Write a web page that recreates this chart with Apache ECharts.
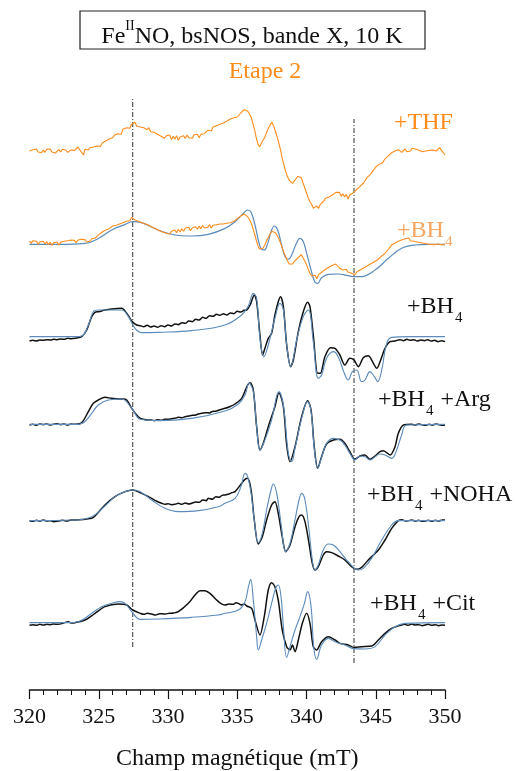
<!DOCTYPE html>
<html>
<head>
<meta charset="utf-8">
<script src="https://cdn.jsdelivr.net/npm/echarts@6/dist/echarts.min.js"></script>
<style>
  html, body { margin: 0; padding: 0; background: #fff; }
  #chart { width: 515px; height: 771px; }
</style>
</head>
<body>
<div id="chart"></div>
<script>
// Magnetic field axis (mT)
const fieldMin = 320;
const fieldMax = 350;
const fieldStep = 5;

// Trace labels
const labels = ['+THF', '+BH4', '+BH4', '+BH4 +Arg', '+BH4 +NOHA', '+BH4 +Cit'];

// Vertical guide fields (mT)
const guideFields = [327.45, 343.43];

// Vertical stacking offsets (arbitrary intensity units)
const offsets = { thf: 1617, bh4Step2: 1340, bh4: 1055, arg: 797, noha: 508, cit: 200 };

// Etape 2, +THF: [field mT, signal]
const thfExp = [[320.0,0],[320.12,-6],[320.25,4],[320.37,-2],[320.5,6],[320.62,-3],[320.75,2],[320.87,-5],[321.0,3],[321.12,-4],[321.25,5],[321.37,0],[321.5,6],[321.62,-3],[321.75,3],[321.87,-6],[322.0,-2],[322.12,4],[322.25,-3],[322.37,5],[322.5,-1],[322.62,3],[322.75,-4],[322.87,2],[323.0,3],[323.12,8],[323.25,2],[323.37,6],[323.5,12],[323.62,4],[323.75,-2],[323.9,-12],[324.0,5],[324.12,8],[324.25,3],[324.37,10],[324.5,6],[324.62,12],[324.75,9],[324.87,15],[325.0,18],[325.12,14],[325.25,24],[325.37,20],[325.5,30],[325.62,27],[325.75,36],[325.87,33],[326.0,40],[326.12,47],[326.25,42],[326.37,52],[326.5,55],[326.62,50],[326.75,66],[326.87,60],[327.0,70],[327.12,74],[327.25,68],[327.37,80],[327.5,76],[327.62,86],[327.75,74],[327.87,80],[328.0,72],[328.12,78],[328.25,70],[328.37,74],[328.5,64],[328.62,70],[328.75,58],[328.87,64],[329.0,56],[329.12,62],[329.25,50],[329.37,56],[329.5,44],[329.62,50],[329.75,38],[329.87,46],[330.0,40],[330.12,48],[330.25,34],[330.37,44],[330.5,36],[330.62,46],[330.75,32],[330.87,42],[331.0,36],[331.12,46],[331.25,38],[331.37,48],[331.5,40],[331.62,46],[331.75,38],[331.87,48],[332.0,42],[332.12,50],[332.25,40],[332.37,50],[332.5,44],[332.62,52],[332.75,46],[332.87,62],[333.0,66],[333.12,60],[333.25,72],[333.37,66],[333.5,76],[333.62,70],[333.75,80],[333.87,76],[334.0,84],[334.12,80],[334.25,90],[334.37,86],[334.5,96],[334.62,92],[334.75,100],[334.87,96],[335.0,102],[335.12,108],[335.25,114],[335.37,120],[335.5,124],[335.6,126],[335.75,120],[335.87,112],[336.0,102],[336.12,84],[336.25,64],[336.37,40],[336.5,20],[336.62,12],[336.75,24],[336.87,30],[337.0,42],[337.12,56],[337.25,68],[337.37,78],[337.5,86],[337.62,76],[337.75,60],[337.87,44],[338.0,24],[338.12,4],[338.25,-22],[338.37,-42],[338.5,-62],[338.62,-76],[338.75,-88],[338.87,-94],[339.0,-97],[339.12,-90],[339.25,-84],[339.37,-76],[339.5,-72],[339.62,-80],[339.75,-96],[339.87,-110],[340.0,-126],[340.12,-140],[340.25,-152],[340.37,-160],[340.5,-172],[340.62,-178],[340.75,-165],[340.87,-172],[341.0,-160],[341.12,-166],[341.25,-150],[341.37,-142],[341.5,-148],[341.62,-138],[341.75,-142],[341.87,-132],[342.0,-136],[342.12,-124],[342.25,-130],[342.37,-124],[342.5,-136],[342.62,-128],[342.75,-138],[342.87,-130],[343.0,-144],[343.12,-132],[343.25,-138],[343.37,-126],[343.5,-128],[343.62,-116],[343.75,-118],[343.87,-106],[344.0,-104],[344.12,-96],[344.25,-92],[344.37,-80],[344.5,-84],[344.62,-70],[344.75,-64],[344.87,-56],[345.0,-48],[345.12,-52],[345.25,-40],[345.37,-34],[345.5,-36],[345.62,-26],[345.75,-22],[345.87,-16],[346.0,-12],[346.12,-6],[346.25,-8],[346.37,0],[346.5,-4],[346.62,4],[346.75,0],[346.87,-4],[347.0,0],[347.12,6],[347.25,-2],[347.37,4],[347.5,0],[347.62,8],[347.75,2],[347.87,6],[348.0,8],[348.12,2],[348.25,4],[348.37,-2],[348.5,4],[348.62,0],[348.75,6],[348.87,2],[349.0,8],[349.12,3],[349.25,6],[349.37,0],[349.5,4],[349.62,10],[349.75,2],[349.87,4],[350.0,-12]];

// Etape 2, +BH4: measured and simulated
const bh4Step2Exp = [[320.0,7],[320.12,0],[320.25,8],[320.37,2],[320.5,6],[320.62,-3],[320.75,4],[320.87,0],[321.0,6],[321.12,-2],[321.25,5],[321.37,-4],[321.5,3],[321.62,-6],[321.75,2],[321.87,-2],[322.0,4],[322.12,-5],[322.25,3],[322.37,-2],[322.5,6],[322.62,0],[322.75,8],[322.87,3],[323.0,10],[323.12,4],[323.25,9],[323.37,2],[323.5,10],[323.62,5],[323.75,12],[323.87,6],[324.0,11],[324.12,4],[324.25,10],[324.37,6],[324.5,14],[324.62,9],[324.75,16],[324.87,22],[325.0,26],[325.12,30],[325.25,34],[325.37,38],[325.5,40],[325.62,46],[325.75,44],[325.87,50],[326.0,52],[326.12,56],[326.25,54],[326.37,60],[326.5,58],[326.62,64],[326.75,62],[326.87,68],[327.0,66],[327.12,72],[327.25,68],[327.37,78],[327.5,74],[327.62,70],[327.75,74],[327.87,66],[328.0,70],[328.12,62],[328.25,66],[328.37,58],[328.5,62],[328.62,54],[328.75,56],[328.87,48],[329.0,52],[329.12,44],[329.25,46],[329.37,38],[329.5,42],[329.62,34],[329.75,38],[329.87,30],[330.0,36],[330.12,28],[330.25,36],[330.37,30],[330.5,40],[330.62,32],[330.75,42],[330.87,34],[331.0,44],[331.12,36],[331.25,46],[331.37,40],[331.5,48],[331.62,38],[331.75,46],[331.87,40],[332.0,50],[332.12,42],[332.25,52],[332.37,44],[332.5,54],[332.62,46],[332.75,52],[332.87,48],[333.0,56],[333.12,46],[333.25,54],[333.37,48],[333.5,56],[333.62,50],[333.75,58],[333.87,52],[334.0,58],[334.12,54],[334.25,60],[334.37,56],[334.5,62],[334.62,60],[334.75,66],[334.87,70],[335.0,74],[335.12,78],[335.25,82],[335.37,86],[335.5,88],[335.62,84],[335.75,80],[335.87,72],[336.0,62],[336.12,46],[336.25,28],[336.37,10],[336.5,-8],[336.62,-18],[336.75,-20],[336.87,-14],[337.0,-4],[337.12,8],[337.25,18],[337.37,28],[337.5,36],[337.62,36],[337.75,32],[337.87,24],[338.0,14],[338.12,2],[338.25,-14],[338.37,-28],[338.5,-40],[338.62,-52],[338.75,-62],[338.87,-68],[339.0,-62],[339.12,-54],[339.25,-48],[339.37,-44],[339.5,-40],[339.62,-34],[339.75,-40],[339.87,-52],[340.0,-64],[340.12,-78],[340.25,-90],[340.37,-98],[340.5,-104],[340.62,-96],[340.75,-106],[340.87,-94],[341.0,-98],[341.12,-86],[341.25,-84],[341.37,-78],[341.5,-80],[341.62,-72],[341.75,-74],[341.87,-66],[342.0,-70],[342.12,-62],[342.25,-66],[342.37,-74],[342.5,-70],[342.62,-80],[342.75,-84],[342.87,-78],[343.0,-86],[343.12,-82],[343.25,-90],[343.37,-86],[343.5,-94],[343.62,-86],[343.75,-88],[343.87,-80],[344.0,-82],[344.12,-74],[344.25,-76],[344.37,-68],[344.5,-72],[344.62,-62],[344.75,-66],[344.87,-56],[345.0,-58],[345.12,-50],[345.25,-48],[345.37,-40],[345.5,-42],[345.62,-32],[345.75,-28],[345.87,-20],[346.0,-14],[346.12,-6],[346.25,-8],[346.37,0],[346.5,2],[346.62,6],[346.75,4],[346.87,10],[347.0,8],[347.12,14],[347.25,10],[347.37,16],[347.5,8],[347.62,12],[347.75,6],[347.87,10],[348.0,4],[348.12,8],[348.25,2],[348.37,6],[348.5,0],[348.62,6],[348.75,-2],[348.87,4],[349.0,-3],[349.12,3],[349.25,-4],[349.37,2],[349.5,-2],[349.62,4],[349.75,-4],[349.87,0],[350.0,-5]];
const bh4Step2Fit = [[320.0,-3],[322.08,-3],[324.01,0],[325.0,15],[325.93,40],[326.9,57],[327.45,65],[328.0,63],[329.3,40],[330.5,25],[331.71,22],[332.91,27],[334.12,45],[334.84,65],[335.44,90],[335.75,100],[336.0,93],[336.28,55],[336.52,10],[336.71,-15],[336.95,-20],[337.2,0],[337.44,35],[337.68,52],[337.92,40],[338.2,-5],[338.45,-40],[338.69,-48],[338.93,-35],[339.22,-5],[339.53,15],[339.77,5],[340.01,-30],[340.33,-80],[340.61,-117],[340.81,-120],[341.09,-103],[341.58,-93],[342.29,-92],[343.01,-97],[343.43,-100],[343.98,-100],[344.95,-80],[345.91,-45],[346.87,-15],[347.84,-5],[348.8,-3],[350.0,-3]];

// +BH4
const bh4Exp = [[320.0,-8],[320.25,-6],[320.5,-8],[320.75,-5],[321.0,-6],[321.25,-4],[321.5,-5],[321.75,-3],[322.0,-4],[322.25,-2],[322.5,-3],[322.75,0],[323.0,-1],[323.29,0],[323.77,5],[324.13,25],[324.49,65],[324.73,78],[325.0,80],[325.45,85],[325.93,88],[326.65,90],[327.02,75],[327.38,52],[327.74,40],[328.0,38],[328.25,35],[328.5,39],[328.75,34],[329.0,37],[329.25,33],[329.5,38],[329.75,35],[330.0,40],[330.25,37],[330.5,43],[330.75,41],[331.0,47],[331.25,45],[331.5,52],[331.75,50],[332.0,57],[332.25,55],[332.5,63],[332.75,60],[333.0,68],[333.25,66],[333.5,72],[333.75,69],[334.0,74],[334.25,70],[334.5,76],[334.75,74],[335.0,81],[335.25,79],[335.5,84],[335.68,85],[335.93,100],[336.23,130],[336.40,110],[336.64,10],[336.83,-50],[337.0,-30],[337.24,0],[337.48,15],[337.72,70],[337.96,110],[338.13,125],[338.33,95],[338.57,-20],[338.86,-85],[339.05,-65],[339.41,20],[339.77,80],[340.08,108],[340.25,95],[340.49,10],[340.81,-105],[341.0,-105],[341.33,-55],[341.74,-28],[342.06,-30],[342.41,-50],[342.77,-80],[343.13,-60],[343.43,-65],[343.74,-85],[344.1,-58],[344.46,-52],[344.83,-75],[345.07,-90],[345.31,-70],[345.67,-30],[346.03,-10],[346.39,-8],[346.75,-4],[347.0,-7],[347.25,-3],[347.5,-6],[347.75,-4],[348.0,-8],[348.25,-5],[348.5,-7],[348.75,-4],[349.0,-8],[349.25,-6],[349.5,-10],[349.75,-7],[350.0,-10]];
const bh4Fit = [[320.0,5],[323.29,5],[323.77,7],[324.25,40],[324.61,80],[324.97,85],[326.65,85],[327.14,65],[327.62,30],[328.1,17],[329.3,18],[331.71,23],[334.12,40],[335.32,70],[335.81,98],[336.16,135],[336.40,120],[336.64,0],[336.93,-55],[337.24,-20],[337.72,60],[338.09,105],[338.33,85],[338.57,-20],[338.86,-85],[339.29,-5],[339.77,65],[340.13,85],[340.49,-10],[340.85,-120],[341.09,-110],[341.45,-60],[341.94,-40],[342.29,-55],[342.73,-105],[343.01,-125],[343.31,-100],[343.62,-95],[343.98,-130],[344.22,-125],[344.58,-100],[344.9,-115],[345.14,-130],[345.43,-95],[345.79,-15],[346.15,3],[347.36,5],[350.0,5]];

// +BH4 +Arg
const argExp = [[320.0,-2],[320.25,0],[320.5,-3],[320.75,1],[321.0,-1],[321.25,1],[321.5,-2],[321.75,0],[322.0,2],[322.25,-1],[322.5,1],[322.75,-2],[323.0,1],[323.29,0],[323.77,5],[324.25,38],[324.61,63],[324.97,73],[325.45,81],[325.93,78],[326.65,76],[327.02,73],[327.38,48],[327.74,28],[328.0,18],[328.25,15],[328.5,13],[328.82,13],[329.0,11],[329.25,14],[329.5,12],[329.75,15],[330.02,15],[330.25,17],[330.5,18],[330.75,21],[331.0,20],[331.23,23],[331.5,25],[331.75,27],[332.0,28],[332.25,32],[332.43,33],[332.75,35],[333.0,34],[333.15,38],[333.5,40],[333.75,44],[334.12,48],[334.4,52],[334.84,61],[335.32,78],[335.75,118],[335.93,125],[336.16,103],[336.40,-7],[336.64,-77],[336.88,-57],[337.24,-7],[337.72,53],[338.01,95],[338.33,53],[338.57,-62],[338.81,-112],[339.17,-67],[339.65,23],[340.08,71],[340.33,43],[340.56,-67],[340.81,-132],[341.09,-97],[341.45,-59],[341.94,-47],[342.41,-45],[342.77,-57],[343.13,-82],[343.50,-105],[343.86,-95],[344.22,-92],[344.58,-105],[344.95,-95],[345.31,-82],[345.55,-79],[346.03,-92],[346.39,-67],[346.63,-27],[347.0,-2],[347.6,0],[347.85,-2],[348.1,1],[348.35,-1],[348.6,-3],[348.85,0],[349.1,-2],[349.35,1],[349.6,-1],[349.85,-3],[350.0,-2]];
const argFit = [[320.0,0],[323.29,0],[323.89,5],[324.49,33],[324.97,58],[325.69,73],[326.65,76],[327.38,48],[328.0,15],[329.3,11],[331.71,18],[334.12,40],[335.08,61],[335.56,88],[335.85,123],[336.16,98],[336.40,-7],[336.64,-77],[337.0,-47],[337.48,13],[338.01,98],[338.33,58],[338.69,-87],[338.93,-112],[339.17,-72],[339.65,18],[340.08,68],[340.33,38],[340.56,-72],[340.81,-132],[341.09,-99],[341.45,-57],[341.94,-42],[342.41,-47],[342.77,-62],[343.13,-87],[343.50,-107],[343.86,-95],[344.22,-97],[344.58,-107],[344.95,-97],[345.31,-89],[345.67,-92],[346.15,-102],[346.51,-77],[346.87,-32],[347.23,-2],[350.0,0]];

// +BH4 +NOHA
const nohaExp = [[320.0,0],[320.25,-2],[320.5,1],[320.75,-1],[321.0,2],[321.25,-1],[321.5,0],[321.75,-3],[322.08,-1],[322.4,1],[322.7,-1],[323.0,2],[323.29,2],[324.49,7],[324.73,14],[325.45,47],[326.17,72],[326.90,87],[327.45,92],[328.0,84],[328.82,67],[329.1,60],[329.3,56],[329.54,52],[329.8,49],[330.0,51],[330.25,48],[330.5,49],[330.75,52],[331.0,49],[331.25,53],[331.5,50],[331.71,52],[332.0,56],[332.25,55],[332.5,62],[332.75,60],[332.91,67],[333.2,64],[333.45,72],[333.7,70],[333.9,76],[334.12,77],[334.4,80],[334.6,84],[334.84,87],[335.32,112],[335.56,124],[335.75,127],[336.0,92],[336.23,2],[336.52,-70],[336.81,-48],[337.12,2],[337.48,47],[337.72,57],[337.96,22],[338.25,-48],[338.50,-93],[338.81,-73],[339.17,-18],[339.46,12],[339.65,17],[339.89,-3],[340.18,-68],[340.42,-128],[340.61,-148],[340.85,-138],[341.21,-103],[341.45,-93],[341.82,-96],[342.29,-106],[342.77,-118],[343.25,-138],[343.62,-146],[343.98,-140],[344.46,-118],[345.19,-88],[345.67,-58],[346.15,-23],[346.63,0],[346.9,3],[347.15,-1],[347.36,0],[347.6,2],[347.85,-1],[348.1,1],[348.35,-2],[348.56,-1],[348.8,1],[349.05,-2],[349.3,1],[349.55,-1],[349.8,2],[350.0,2]];
const nohaFit = [[320.0,0],[323.29,2],[324.49,12],[325.45,44],[326.17,72],[326.90,87],[327.45,92],[328.0,87],[328.82,62],[329.78,37],[330.75,27],[332.19,30],[333.63,42],[334.12,52],[334.84,67],[335.27,102],[335.56,142],[335.75,132],[336.0,82],[336.23,2],[336.52,-66],[336.81,-38],[337.12,32],[337.44,92],[337.60,110],[337.85,82],[338.16,-8],[338.50,-93],[338.81,-68],[339.17,2],[339.46,62],[339.65,82],[339.89,62],[340.18,-28],[340.42,-118],[340.61,-148],[340.85,-133],[341.21,-88],[341.58,-70],[341.94,-73],[342.41,-93],[343.01,-123],[343.74,-148],[344.10,-143],[344.70,-113],[345.43,-58],[346.15,-13],[346.63,0],[350.0,0]];

// +BH4 +Cit
const citExp = [[320.0,-6],[320.25,-4],[320.5,-6],[320.75,-3],[321.0,-5],[321.25,-3],[321.5,-4],[321.75,-2],[322.08,-3],[322.4,0],[322.8,5],[323.0,1],[323.29,2],[324.01,10],[324.73,30],[325.45,50],[326.41,58],[327.02,55],[327.45,40],[328.0,30],[328.25,27],[328.5,30],[328.82,28],[329.1,25],[329.4,29],[329.78,28],[330.1,30],[330.4,31],[330.75,35],[331.47,60],[331.95,85],[332.31,98],[332.67,98],[333.03,90],[333.51,70],[333.8,60],[334.12,55],[334.4,58],[334.72,57],[334.9,62],[335.08,60],[335.3,55],[335.5,58],[335.68,52],[336.04,45],[336.28,10],[336.64,-35],[336.95,20],[337.24,100],[337.48,122],[337.72,110],[337.96,70],[338.25,-20],[338.57,-70],[338.81,-80],[338.98,-65],[339.17,-85],[339.41,-50],[339.70,0],[340.01,30],[340.25,0],[340.49,-70],[340.73,-80],[341.09,-55],[341.58,-40],[342.06,-50],[342.41,-60],[343.01,-65],[343.43,-72],[343.98,-70],[344.70,-68],[345.19,-50],[345.67,-30],[346.15,-15],[346.87,-5],[347.1,-3],[347.35,-6],[347.6,-2],[347.85,-5],[348.1,-4],[348.35,-7],[348.56,-5],[348.8,-3],[349.05,-6],[349.3,-4],[349.55,-7],[349.8,-5],[350.0,-6]];
const citFit = [[320.0,2],[322.80,2],[323.53,5],[324.49,30],[325.21,50],[325.93,60],[326.53,65],[326.90,60],[327.38,35],[328.0,12],[329.30,13],[331.71,18],[333.63,25],[334.12,30],[335.08,40],[335.56,65],[335.81,110],[335.97,132],[336.16,70],[336.40,-40],[336.52,-80],[336.76,-50],[337.12,0],[337.48,60],[337.77,105],[337.96,115],[338.16,80],[338.33,-10],[338.57,-102],[338.81,-70],[339.17,-20],[339.53,20],[339.85,60],[340.08,95],[340.33,50],[340.52,-70],[340.73,-108],[341.09,-65],[341.58,-45],[342.06,-55],[342.77,-65],[343.43,-76],[344.22,-77],[344.95,-70],[345.67,-35],[346.39,-10],[347.11,0],[350.0,2]];

// Vertical extent of the guide lines (same intensity units)
const guideSpans = [[129, 1776], [81, 1713]];

const ORANGE = '#ff8c1a';
const BLUE = '#5b8bbb';
const BLACK = '#111111';
const FONT = '"Liberation Serif", "DejaVu Serif", serif';

function shift(trace, off) {
  return trace.map(p => [p[0], p[1] + off]);
}
function traceSeries(data, off, color, width, z, smooth) {
  return {
    type: 'line', data: shift(data, off), showSymbol: false, symbol: 'none',
    smooth: smooth, lineStyle: { color: color, width: width }, z: z,
    silent: true, animation: false
  };
}

const series = [];
guideFields.forEach((f, i) => {
  series.push({
    type: 'line', data: [[f, guideSpans[i][0]], [f, guideSpans[i][1]]],
    showSymbol: false, symbol: 'none', silent: true, animation: false, z: 1,
    lineStyle: { color: '#555', width: 1.2, type: [5, 2, 1, 2] }
  });
});
series.push(traceSeries(thfExp, offsets.thf, ORANGE, 1.1, 3, false));
series.push(traceSeries(bh4Step2Fit, offsets.bh4Step2, BLUE, 1.2, 2, 0.4));
series.push(traceSeries(bh4Step2Exp, offsets.bh4Step2, ORANGE, 1.1, 3, false));
series.push(traceSeries(bh4Exp, offsets.bh4, BLACK, 1.5, 2, 0.3));
series.push(traceSeries(bh4Fit, offsets.bh4, BLUE, 1.1, 3, 0.4));
series.push(traceSeries(argExp, offsets.arg, BLACK, 1.5, 2, 0.3));
series.push(traceSeries(argFit, offsets.arg, BLUE, 1.1, 3, 0.4));
series.push(traceSeries(nohaExp, offsets.noha, BLACK, 1.5, 2, 0.3));
series.push(traceSeries(nohaFit, offsets.noha, BLUE, 1.1, 3, 0.4));
series.push(traceSeries(citExp, offsets.cit, BLACK, 1.5, 2, 0.3));
series.push(traceSeries(citFit, offsets.cit, BLUE, 1.1, 3, 0.4));

const labelRich = {
  t: { fontFamily: FONT, fontSize: 24, lineHeight: 26, verticalAlign: 'top' },
  s: { fontFamily: FONT, fontSize: 15, lineHeight: 15, padding: [16, 1, 0, 1], verticalAlign: 'top' }
};
function richLabel(str) {
  // "+BH4 ..." -> base text with subscript 4
  const parts = str.split('4');
  if (parts.length === 1) return '{t|' + str + '}';
  return '{t|' + parts[0] + '}{s|4}' + (parts[1] ? '{t|' + parts[1] + '}' : '');
}
function label(str, x, y, color) {
  const rich = {
    t: Object.assign({}, labelRich.t, { fill: color }),
    s: Object.assign({}, labelRich.s, { fill: color })
  };
  return {
    type: 'text', x: x, y: y, silent: true, z: 10,
    style: { text: richLabel(str), rich: rich, textVerticalAlign: 'middle', fill: color }
  };
}

const chart = echarts.init(document.getElementById('chart'), null, { renderer: 'canvas' });
chart.setOption({
  backgroundColor: '#ffffff',
  animation: false,
  grid: { left: 29.5, right: 70, top: 0, bottom: 81, containLabel: false, outerBoundsMode: 'none' },
  xAxis: {
    type: 'value', min: fieldMin, max: fieldMax, interval: fieldStep,
    name: 'Champ magnétique (mT)', nameLocation: 'middle', nameGap: 57,
    nameTextStyle: { fontFamily: FONT, fontSize: 24, color: '#111' },
    axisLine: { lineStyle: { color: '#111', width: 1.5 } },
    axisTick: { length: 9, lineStyle: { color: '#111', width: 1.2 } },
    minorTick: { show: true, splitNumber: 5, length: 5, lineStyle: { color: '#111', width: 1 } },
    axisLabel: { fontFamily: FONT, fontSize: 22, color: '#111', margin: 16 },
    splitLine: { show: false }
  },
  yAxis: { type: 'value', min: 0, max: 2070, show: false },
  series: series,
  graphic: [
    { type: 'rect', shape: { x: 80, y: 11, width: 345, height: 38 },
      style: { fill: 'none', stroke: '#222', lineWidth: 1.2 }, silent: true },
    { type: 'text', x: 252, y: 34, silent: true,
      style: {
        text: '{a|Fe}{s|II}{a|NO, bsNOS, bande X, 10 K}',
        textAlign: 'center', textVerticalAlign: 'middle',
        rich: {
          a: { fontFamily: FONT, fontSize: 24, lineHeight: 30, fill: '#111', verticalAlign: 'bottom' },
          s: { fontFamily: FONT, fontSize: 14, lineHeight: 14, fill: '#111', verticalAlign: 'top' }
        }
      } },
    { type: 'text', x: 265, y: 72, silent: true,
      style: { text: 'Etape 2', fontFamily: FONT, fontSize: 24, fill: ORANGE,
               textAlign: 'center', textVerticalAlign: 'middle' } },
    label(labels[0], 394, 124, ORANGE),
    label(labels[1], 397, 232, '#f7a662'),
    label(labels[2], 407, 308, BLACK),
    label(labels[3], 378, 401, BLACK),
    label(labels[4], 367, 496, BLACK),
    label(labels[5], 370, 605, BLACK)
  ]
});
</script>
</body>
</html>
